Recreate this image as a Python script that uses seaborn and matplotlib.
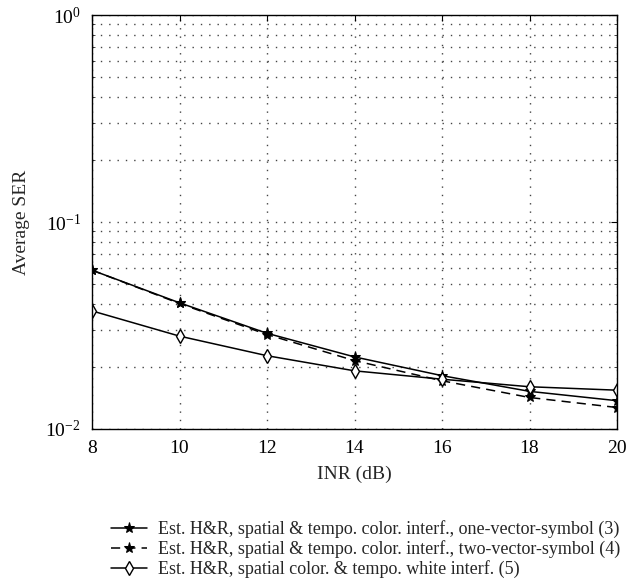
import matplotlib
matplotlib.use("Agg")
import matplotlib.pyplot as plt
import seaborn as sns
from matplotlib.ticker import LogLocator, NullFormatter

inr_db = [8, 10, 12, 14, 16, 18, 20]
ser_one_vec = [0.0585, 0.0407, 0.0290, 0.0223, 0.0181, 0.0152, 0.0137]
ser_two_vec = [0.0585, 0.0404, 0.0286, 0.0214, 0.0171, 0.0142, 0.0127]
ser_white = [0.0372, 0.0281, 0.0226, 0.0191, 0.0174, 0.0160, 0.0154]
labels = [
    "Est. H&R, spatial & tempo. color. interf., one-vector-symbol (3)",
    "Est. H&R, spatial & tempo. color. interf., two-vector-symbol (4)",
    "Est. H&R, spatial color. & tempo. white interf. (5)",
]

sns.set_style("white")
plt.rcParams["font.family"] = ["Liberation Serif", "DejaVu Serif"]
plt.rcParams["mathtext.fontset"] = "stix"

fig = plt.figure(figsize=(6.26, 5.87), dpi=100)
ax = fig.add_axes([92 / 626, 1 - 429 / 587, 525 / 626, 414 / 587])

sns.lineplot(x=inr_db, y=ser_one_vec, ax=ax, color="black", lw=1.1,
             marker="*", markersize=8, markerfacecolor="black",
             markeredgecolor="black", label=labels[0])
sns.lineplot(x=inr_db, y=ser_two_vec, ax=ax, color="black", lw=1.1,
             linestyle=(0, (6, 4)), marker="*", markersize=8,
             markerfacecolor="black", markeredgecolor="black", label=labels[1])
sns.lineplot(x=inr_db, y=ser_white, ax=ax, color="black", lw=1.1,
             marker="d", markersize=7.5, markerfacecolor="white",
             markeredgecolor="black", markeredgewidth=1.0, label=labels[2])

ax.set_yscale("log")
ax.set_xlim(8, 20)
ax.set_ylim(1e-2, 1)
ax.set_xticks(inr_db)
ax.yaxis.set_major_locator(LogLocator(base=10, numticks=5))
ax.yaxis.set_minor_locator(LogLocator(base=10, subs=range(2, 10), numticks=20))
ax.yaxis.set_minor_formatter(NullFormatter())

ax.grid(True, which="major", axis="both", color="#444444", linestyle=(0, (1, 5)), lw=1.0)
ax.grid(True, which="minor", axis="y", color="#444444", linestyle=(0, (1, 5)), lw=1.0)

ax.tick_params(axis="both", which="major", direction="in", length=4, width=0.8,
               top=True, right=True, labelsize=14, pad=8, colors="black")
ax.tick_params(axis="y", which="minor", direction="in", length=2, width=0.6,
               left=True, right=True)
for s in ax.spines.values():
    s.set_color("black")
    s.set_linewidth(1.0)

ax.set_xlabel("INR (dB)", fontsize=14, labelpad=6)
ax.set_ylabel("Average SER", fontsize=14, labelpad=11)

ax.get_legend().remove()
handles, lbls = ax.get_legend_handles_labels()
fig.legend(handles, lbls, loc="upper left", bbox_to_anchor=(104 / 626, 1 - 513 / 587),
           frameon=False, fontsize=13, handlelength=2.0, handletextpad=0.6,
           labelspacing=0.12, borderaxespad=0)

fig.savefig("out.png", dpi=100)
